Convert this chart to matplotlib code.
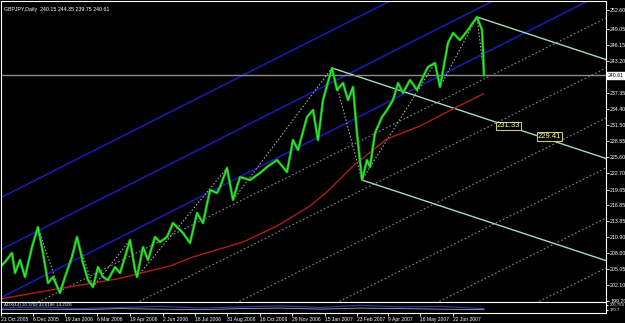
import matplotlib.pyplot as plt
from matplotlib.transforms import blended_transform_factory

# bar number (one bar per trading day) and close price of GBPJPY daily
bars = [0, 5, 12, 15, 20, 25, 32, 38, 43, 48, 53, 60, 65, 72, 77, 83, 88, 93,
        98, 103, 108, 115, 120, 125, 130, 135, 137, 143, 148, 155, 160, 167,
        173, 183, 190, 197, 203, 210, 217, 220, 227, 233, 240, 250, 260, 267,
        277, 287, 293, 298, 307, 313, 318, 323, 328, 332, 337, 343, 348, 353,
        357, 362, 367, 370, 375, 382, 387, 393, 398, 403, 410, 417, 423, 428,
        435, 440, 448, 453, 460, 468, 477, 482, 483, 484]
closes = [205.44, 206.36, 208.01, 204.34, 206.72, 203.61, 209.11, 212.78,
          208.01, 202.50, 203.61, 200.67, 203.61, 207.28, 210.95, 206.17,
          203.05, 201.77, 205.44, 203.61, 203.05, 205.44, 204.34, 207.28,
          210.39, 204.89, 203.61, 209.11, 206.72, 210.95, 210.03, 210.95,
          213.51, 211.68, 209.84, 215.35, 213.51, 219.57, 219.02, 220.12,
          223.61, 217.73, 221.96, 221.40, 222.69, 223.79, 225.07, 222.87,
          228.74, 226.91, 232.97, 234.25, 228.74, 236.08, 239.39, 241.96,
          237.92, 239.20, 236.08, 238.47, 230.03, 221.40, 225.07, 223.79,
          230.03, 232.97, 234.25, 236.08, 239.20, 237.37, 239.75, 237.92,
          240.31, 242.14, 242.87, 238.47, 246.54, 248.38, 247.09, 248.93,
          251.32, 248.93, 245.26, 240.61]

# moving average (red)
ma_bars = [0, 57, 117, 170, 193, 243, 277, 310, 328, 353, 387, 420, 453, 483]
ma_vals = [199.57, 201.41, 203.24, 205.63, 207.28, 210.03, 212.97, 216.64,
           219.39, 223.98, 228.93, 231.32, 234.44, 237.19]

# zigzag pivots (white dotted)
zz_bars = [38, 60, 77, 93, 130, 137, 227, 233, 332, 362, 435, 440, 477, 484]
zz_vals = [212.78, 200.67, 210.95, 201.77, 210.39, 203.61, 223.61, 217.73,
           241.96, 221.40, 242.87, 238.47, 251.32, 240.61]

# blue channel: value at bar 0 and rise per bar
channel_start = [218.10, 208.56, 199.75]
channel_slope = 0.0927
# grey dotted parallels: value at bar 606
dotted_end = [251.13, 241.96, 232.78, 223.61, 214.43, 205.26]
dotted_slope = 0.0918
# descending lines from pivots
fork_bars = [332, 477, 362]
fork_vals = [241.96, 251.32, 221.40]
fork_slope = -0.0606
fork_labels = [(497, 231.33), (538, 229.41)]

last_price = 240.61
ytick_vals = [199.20, 202.10, 205.05, 208.00, 210.90, 213.85, 216.85, 219.65,
              222.70, 225.60, 228.55, 231.50, 234.40, 237.35, 243.20, 246.15,
              249.05, 252.60]
date_bars = [1, 33, 65, 97, 130, 163, 195, 227, 260, 292, 325, 357, 388,
             420, 453]
date_labels = ['21 Oct 2005', '6 Dec 2005', '19 Jan 2006', '6 Mar 2006',
               '19 Apr 2006', '2 Jun 2006', '18 Jul 2006', '31 Aug 2006',
               '16 Oct 2006', '29 Nov 2006', '15 Jan 2007', '23 Feb 2007',
               '9 Apr 2007', '16 May 2007', '22 Jun 2007']

# indicator sub window
ind_bars = [0, 40, 80, 120, 160, 200, 240, 280, 320, 360, 400, 440, 484]
ind_a = [0.45, 0.55, 0.40, 0.50, 0.60, 0.45, 0.55, 0.65, 0.50, 0.70, 0.55,
         0.60, 0.40]
ind_b = [0.30, 0.35, 0.30, 0.40, 0.35, 0.30, 0.40, 0.45, 0.35, 0.45, 0.40,
         0.35, 0.30]

plt.rcParams['font.family'] = ['Liberation Sans', 'DejaVu Sans']
W, H = 625, 323
fig = plt.figure(figsize=(W / 100, H / 100), dpi=100, facecolor='black')

X0, X1 = 1, 606
ax = fig.add_axes([X0 / W, 1 - 302 / H, (X1 - X0) / W, 301 / H])
ax.set_facecolor('black')
ax.set_xlim(X0, X1)
ax.set_ylim(199.02, 254.25)

for s in channel_start:
    ax.plot([0, X1], [s, s + channel_slope * X1], color='#1a1aa8', lw=1.2)
for e in dotted_end:
    ax.plot([0, X1], [e - dotted_slope * X1, e], color='#7c889c', lw=0.8,
            linestyle=(0, (1.5, 2)))
for b, v in zip(fork_bars, fork_vals):
    ax.plot([b, X1], [v, v + fork_slope * (X1 - b)], color='#9fdcbc', lw=1)

ax.axhline(last_price, color='#8c8c8c', lw=1)
ax.plot(zz_bars, zz_vals, color='#c0c0c0', lw=0.7, linestyle=(0, (1.5, 2)))
ax.plot(ma_bars, ma_vals, color='#b01c1c', lw=1)
ax.plot(bars, closes, color='#14a814', lw=1.9)
ax.plot(bars, closes, color='#3cf03c', lw=0.7)

for b, v in fork_labels:
    ax.text(b, v, f'{v:.2f}', fontsize=5.5, color='#ffffb0', va='center',
            ha='left',
            bbox=dict(facecolor='black', edgecolor='#c8c878', pad=0.6, lw=0.8))

ax.yaxis.tick_right()
ax.set_yticks(ytick_vals)
ax.set_yticklabels([f'{v:.2f}' for v in ytick_vals])
ax.tick_params(axis='y', colors='white', labelsize=3.8, length=2, width=0.6,
               pad=1)
ax.set_xticks([])
for sp in ax.spines.values():
    sp.set_color('white')
    sp.set_linewidth(0.8)

tr = blended_transform_factory(ax.transAxes, ax.transData)
ax.text(1.003, last_price, f'{last_price:.2f}', transform=tr, fontsize=3.8,
        color='black', va='center', ha='left',
        bbox=dict(facecolor='white', edgecolor='white', pad=0.5))

fig.text(4 / W, 1 - 9 / H, 'GBPJPY,Daily  240.15 244.35 239.75 240.61',
         color='white', fontsize=3.8, va='center')

# indicator window
ax2 = fig.add_axes([X0 / W, 1 - 313 / H, (X1 - X0) / W, 11 / H])
ax2.set_facecolor('black')
ax2.set_xlim(X0, X1)
ax2.set_ylim(0, 1)
ax2.plot(ind_bars, ind_a, color='#3838b0', lw=0.8)
ax2.plot(ind_bars, ind_b, color='#a0a0c8', lw=0.6)
ax2.text(4, 0.75, 'ADX(14) 20.3702 33.6186 14.2105', color='white',
         fontsize=3.2, va='center')
ax2.set_yticks([0.75, 0.3])
ax2.set_yticklabels(['205.759', '170.7'])
ax2.yaxis.tick_right()
ax2.tick_params(axis='y', colors='white', labelsize=3, length=1.5, pad=1)
ax2.set_xticks(date_bars)
ax2.set_xticklabels(date_labels, ha='left')
ax2.tick_params(axis='x', colors='white', labelsize=3.6, length=2,
                width=0.6, pad=1)
for sp in ax2.spines.values():
    sp.set_color('white')
    sp.set_linewidth(0.8)

fig.savefig('out.png', dpi=100, facecolor='black')
